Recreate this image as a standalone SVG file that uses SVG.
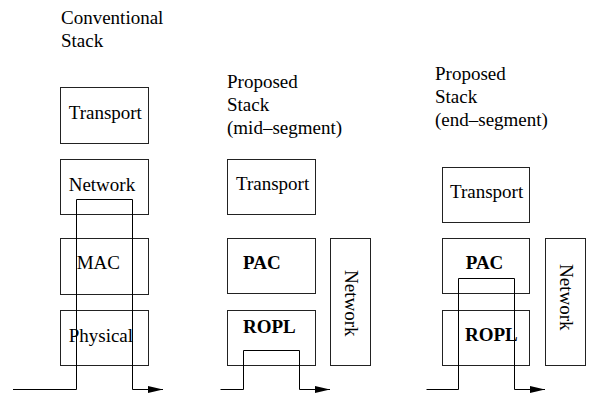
<svg xmlns="http://www.w3.org/2000/svg" width="589" height="394" viewBox="0 0 589 394">
<style>
.box{fill:#fff;stroke:#222;stroke-width:1}
.t{font-family:"Liberation Serif","Times New Roman",serif;font-size:19px;fill:#000}
.b{font-weight:bold}
.wire{fill:none;stroke:#000;stroke-width:1}
</style>
<defs>
<marker id="ah" markerWidth="15" markerHeight="7" refX="15" refY="3.5" orient="auto" markerUnits="userSpaceOnUse">
<path d="M0,0 L15,3.5 L0,7 Z" fill="#000"/>
</marker>
</defs>
<g id="titles">
<text class="t" x="61" y="23.5">Conventional</text>
<text class="t" x="61" y="47.3">Stack</text>
<text class="t" x="227" y="87.7">Proposed</text>
<text class="t" x="227" y="110.7">Stack</text>
<text class="t" x="227" y="133.7">(mid–segment)</text>
<text class="t" x="435" y="80">Proposed</text>
<text class="t" x="435" y="103">Stack</text>
<text class="t" x="435" y="126">(end–segment)</text>
</g>
<g id="conv-transport"><rect class="box" x="60.5" y="87.5" width="88" height="56"/><text class="t" x="68.7" y="119">Transport</text></g>
<g id="conv-network"><rect class="box" x="60.5" y="159.5" width="88" height="55"/><text class="t" x="68.7" y="190.7">Network</text></g>
<g id="conv-mac"><rect class="box" x="60.5" y="238.5" width="88" height="56"/><text class="t" x="76.7" y="269">MAC</text></g>
<g id="conv-physical"><rect class="box" x="60.5" y="310.5" width="88" height="55"/><text class="t" x="68.7" y="342">Physical</text></g>

<g id="mid-transport"><rect class="box" x="227.5" y="159.5" width="88" height="55"/><text class="t" x="236" y="190">Transport</text></g>
<g id="mid-pac"><rect class="box" x="227.5" y="238.5" width="88" height="55"/><text class="t b" x="243" y="269.3">PAC</text></g>
<g id="mid-ropl"><rect class="box" x="227.5" y="310.5" width="88" height="55"/><text class="t b" x="243" y="333.3">ROPL</text></g>
<g id="mid-network"><rect class="box" x="330.5" y="238.5" width="40" height="127"/><text class="t" transform="translate(345,270) rotate(90)" x="0" y="0">Network</text></g>

<g id="end-transport"><rect class="box" x="442.5" y="167.5" width="87" height="55"/><text class="t" x="450" y="198.3">Transport</text></g>
<g id="end-pac"><rect class="box" x="442.5" y="238.5" width="87" height="55"/><text class="t b" x="465.7" y="269.3">PAC</text></g>
<g id="end-ropl"><rect class="box" x="442.5" y="310.5" width="87" height="55"/><text class="t b" x="465" y="340.7">ROPL</text></g>
<g id="end-network"><rect class="box" x="545.5" y="238.5" width="40" height="127"/><text class="t" transform="translate(559.5,264) rotate(90)" x="0" y="0">Network</text></g>

<g id="connectors">
<path class="wire" d="M13,389.5 H76.5 V199.5 H132.5 V389.5 H163" marker-end="url(#ah)"/>
<path class="wire" d="M220.5,389.5 H243.5 V350.5 H299.5 V389.5 H330" marker-end="url(#ah)"/>
<path class="wire" d="M426.5,389.5 H458.5 V278.5 H514.5 V389.5 H545" marker-end="url(#ah)"/>
</g>
</svg>
